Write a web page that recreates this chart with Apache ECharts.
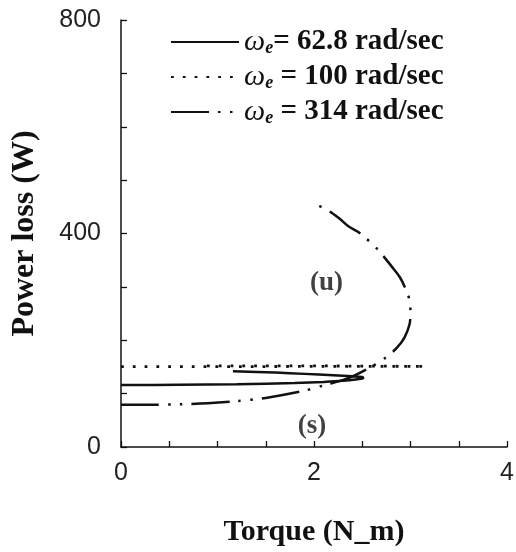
<!DOCTYPE html>
<html>
<head>
<meta charset="utf-8">
<script src="https://cdn.jsdelivr.net/npm/echarts@6/dist/echarts.min.js"></script>
<style>
  html, body { margin: 0; padding: 0; background: #ffffff; }
  #chart { width: 516px; height: 552px; }
</style>
</head>
<body>
<div id="chart"></div>
<script>
// Power loss versus load torque for three electrical speeds.
// Each curve folds back on itself: lower branch = stable, upper branch = unstable.

const seriesNames = ['62.8', '100', '314'];
const legendText = {
  '62.8': '{w|ω}{e|e}{t|= 62.8 rad/sec}',
  '100': '{w|ω}{e|e}{t| = 100 rad/sec}',
  '314': '{w|ω}{e|e}{t| = 314 rad/sec}'
};

// ω_e = 62.8 rad/sec (solid)
const torque62 = [0, 0.6, 1.2, 1.8, 2.1, 2.3, 2.45, 2.51, 2.5, 2.4, 2.2, 1.9, 1.6, 1.16];
const loss62   = [116, 116.5, 117.5, 120, 122, 124, 127, 129, 131, 132.5, 134.5, 137, 139.5, 142];

// ω_e = 100 rad/sec (dotted)
const torque100 = [0, 1.0, 2.0, 3.15, 2.0, 0.85];
const loss100   = [150.5, 150.5, 151, 151, 152, 152];

// ω_e = 314 rad/sec (dash-dot)
const torque314 = [0, 0.3, 0.6, 0.9, 1.2, 1.5, 1.89, 2.11, 2.37, 2.61, 2.74, 2.86, 2.94, 2.99, 3.0, 2.99, 2.95, 2.89, 2.81, 2.66, 2.48, 2.36, 2.27, 2.19, 1.98];
const loss314   = [79, 79, 80, 82, 86, 92, 105, 116, 130, 152, 167, 186, 206, 230, 251, 275, 296, 318, 337, 370, 400, 413, 427, 438, 459];

// Region annotations
const regionLabels = ['(u)', '(s)'];
const regionTorque = [2.13, 1.98];
const regionLoss = [307, 39];

const xTicks = [0, 2, 4];
const yTicks = [0, 400, 800];

function pairs(xs, ys) { return xs.map((x, i) => [x, ys[i]]); }

const serif = 'Liberation Serif, Times New Roman, serif';
const sans = 'Liberation Sans, Arial, sans-serif';
const ink = '#111111';

const chart = echarts.init(document.getElementById('chart'), null, { renderer: 'canvas' });

const option = {
  backgroundColor: '#ffffff',
  animation: false,
  grid: { left: 121, right: 9, top: 20, bottom: 105, outerBoundsMode: 'none' },
  legend: {
    orient: 'vertical',
    left: 165,
    top: 22,
    itemWidth: 68,
    itemHeight: 12,
    itemGap: 5,
    data: seriesNames,
    itemStyle: { opacity: 0 },
    formatter: name => legendText[name],
    textStyle: {
      color: ink,
      rich: {
        w: { fontFamily: serif, fontStyle: 'italic', fontSize: 30, color: ink, lineHeight: 30 },
        e: { fontFamily: serif, fontStyle: 'italic', fontWeight: 'bold', fontSize: 18, color: ink, verticalAlign: 'bottom', lineHeight: 8 },
        t: { fontFamily: serif, fontWeight: 'bold', fontSize: 29, color: ink, lineHeight: 30 }
      }
    }
  },
  xAxis: {
    type: 'value',
    min: 0, max: 4, interval: 0.5,
    name: 'Torque (N_m)',
    nameLocation: 'middle',
    nameGap: 70,
    nameTextStyle: { fontFamily: serif, fontWeight: 'bold', fontSize: 30, color: ink },
    axisLine: { show: true, lineStyle: { color: ink, width: 1.5 } },
    axisTick: { show: true, inside: true, length: 6, lineStyle: { color: ink, width: 1.3 } },
    splitLine: { show: false },
    axisLabel: {
      margin: 14, fontFamily: sans, fontSize: 25, color: '#222',
      formatter: v => (xTicks.includes(v) ? String(v) : '')
    }
  },
  yAxis: {
    type: 'value',
    min: 0, max: 800, interval: 100,
    name: 'Power loss (W)',
    nameLocation: 'middle',
    nameRotate: 90,
    nameGap: 80,
    nameTextStyle: { fontFamily: serif, fontWeight: 'bold', fontSize: 32, color: ink },
    axisLine: { show: true, lineStyle: { color: ink, width: 1.5 } },
    axisTick: { show: true, inside: true, length: 6, lineStyle: { color: ink, width: 1.3 } },
    splitLine: { show: false },
    axisLabel: {
      margin: 20, fontFamily: sans, fontSize: 25, color: '#222',
      formatter: v => (yTicks.includes(v) ? String(v) : '')
    }
  },
  series: [
    {
      name: seriesNames[0], type: 'line', data: pairs(torque62, loss62),
      symbol: 'none', smooth: 0.3,
      lineStyle: { color: ink, width: 2.5, type: 'solid' }
    },
    {
      name: seriesNames[1], type: 'line', data: pairs(torque100, loss100),
      symbol: 'none', smooth: false,
      lineStyle: { color: ink, width: 2.8, type: [2.8, 9] }
    },
    {
      name: seriesNames[2], type: 'line', data: pairs(torque314, loss314),
      symbol: 'none', smooth: 0.3,
      lineStyle: { color: ink, width: 2.5, type: [38, 9, 2.5, 9.5, 2.5, 9] }
    },
    {
      type: 'scatter', silent: true, symbolSize: 0,
      data: regionLabels.map((t, i) => ({ value: [regionTorque[i], regionLoss[i]], name: t })),
      label: {
        show: true, position: 'inside', formatter: p => p.name,
        fontFamily: serif, fontWeight: 'bold', fontSize: 27, color: ink
      }
    }
  ]
};

chart.setOption(option);
</script>
</body>
</html>
